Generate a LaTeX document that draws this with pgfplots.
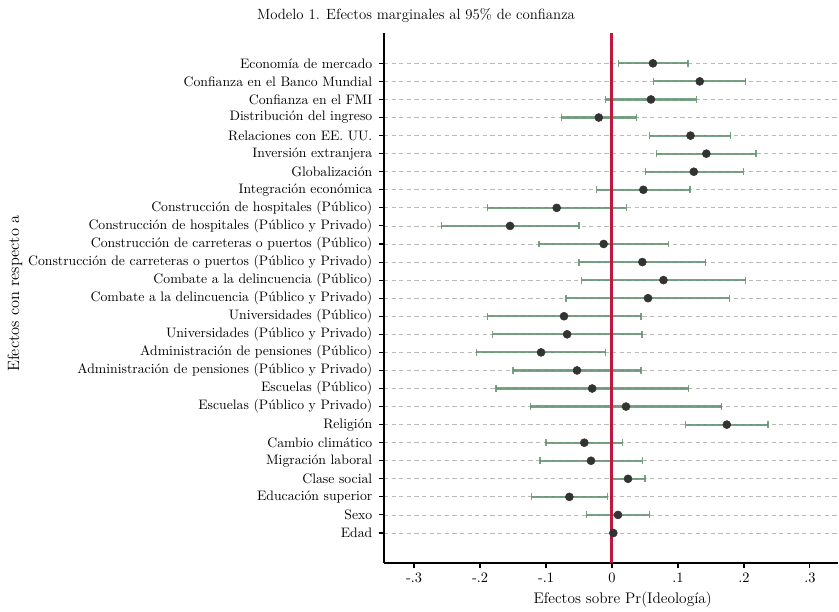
\documentclass[border=0pt]{standalone}
\usepackage{fontspec}
\usepackage{pgfplots}
\pgfplotsset{compat=1.18}
\usepackage{pgfplotstable}
\definecolor{cigreen}{RGB}{98,144,110}
\definecolor{zeroRed}{RGB}{190,24,62}
\definecolor{dotgray}{RGB}{51,51,51}
\definecolor{gridgray}{RGB}{185,185,185}

\pgfplotstableread{
y pt lo hi
27 0.062 0.0097 0.115
26 0.133 0.063 0.2026
25 0.059 -0.0095 0.128
24 -0.020 -0.077 0.037
23 0.119 0.057 0.180
22 0.143 0.067 0.218
21 0.124 0.0505 0.199
20 0.0475 -0.023 0.118
19 -0.0838 -0.189 0.0218
18 -0.1545 -0.2585 -0.050
17 -0.0126 -0.1106 0.0854
16 0.046 -0.050 0.142
15 0.078 -0.046 0.2026
14 0.0546 -0.0697 0.178
13 -0.0727 -0.189 0.044
12 -0.068 -0.181 0.0455
11 -0.1075 -0.2055 -0.010
10 -0.053 -0.150 0.044
9 -0.030 -0.176 0.116
8 0.0212 -0.1237 0.166
7 0.174 0.1117 0.2364
6 -0.042 -0.100 0.0157
5 -0.0318 -0.109 0.046
4 0.0243 -0.001 0.050
3 -0.0646 -0.1217 -0.007
2 0.0091 -0.0389 0.057
1 0.002 0.0015 0.0025
}\data

\begin{document}
\begin{tikzpicture}[font=\fontsize{10.8}{13}\selectfont]
\begin{axis}[
  at={(0,0)}, anchor=south west,
  scale only axis, width=340.6pt, height=397.5pt,
  xmin=-0.3455, xmax=0.3427, ymin=-0.66, ymax=28.68,
  axis x line*=bottom, axis y line*=left,
  axis line style={black, line width=0.8pt, -},
  tick align=outside, xtick pos=bottom, ytick pos=left,
  major tick length=3.75pt,
  tick style={black, line width=0.8pt},
  xtick={-0.3,-0.2,-0.1,0,0.1,0.2,0.3},
  xticklabels={-.3,-.2,-.1,0,.1,.2,.3},
  ytick={1,...,27},
  yticklabel style={font=\fontsize{10.3}{12}\selectfont, xshift=-1.5pt},
  yticklabels={{Edad},{Sexo},{Educación superior},{Clase social},{Migración laboral},{Cambio climático},{Religión},{Escuelas (Público y Privado)},{Escuelas (Público)},{Administración de pensiones (Público y Privado)},{Administración de pensiones (Público)},{Universidades (Público y Privado)},{Universidades (Público)},{Combate a la delincuencia (Público y Privado)},{Combate a la delincuencia (Público)},{Construcción de carreteras o puertos (Público y Privado)},{Construcción de carreteras o puertos (Público)},{Construcción de hospitales (Público y Privado)},{Construcción de hospitales (Público)},{Integración económica},{Globalización},{Inversión extranjera},{Relaciones con EE. UU.},{Distribución del ingreso},{Confianza en el FMI},{Confianza en el Banco Mundial},{Economía de mercado}},
  ymajorgrids,
  major grid style={gridgray, dash pattern=on 3.2pt off 2.5pt, line width=0.6pt},
  clip=false,
]
\addplot[draw=none, mark=none, forget plot,
  error bars/.cd, x dir=both, x explicit, error mark=|,
  error bar style={draw=cigreen, line width=1.6pt, opacity=0.85},
  error mark options={draw=cigreen, line width=1pt, mark size=2.6pt}]
  table[x=pt, y=y, x error plus expr=\thisrow{hi}-\thisrow{pt}, x error minus expr=\thisrow{pt}-\thisrow{lo}] {\data};
\addplot[zeroRed, line width=2.25pt, mark=none] coordinates {(0,-0.66) (0,28.68)};
\addplot[only marks, mark=*, mark size=3pt, mark options={fill=dotgray, draw=dotgray}] table[x=pt, y=y] {\data};
\end{axis}
\node at (24pt,411pt) {\fontsize{11.1}{13}\selectfont Modelo 1. Efectos marginales al 95\% de confianza};
\node[rotate=90] at (-276.75pt,202pt) {\fontsize{12.3}{14}\selectfont Efectos con respecto a};
\node at (179pt,-27.75pt) {\fontsize{11.5}{13}\selectfont Efectos sobre Pr(Ideología)};
\pgfresetboundingbox
\path[use as bounding box] (-288pt,-36pt) rectangle (341.25pt,422.25pt);
\end{tikzpicture}
\end{document}
